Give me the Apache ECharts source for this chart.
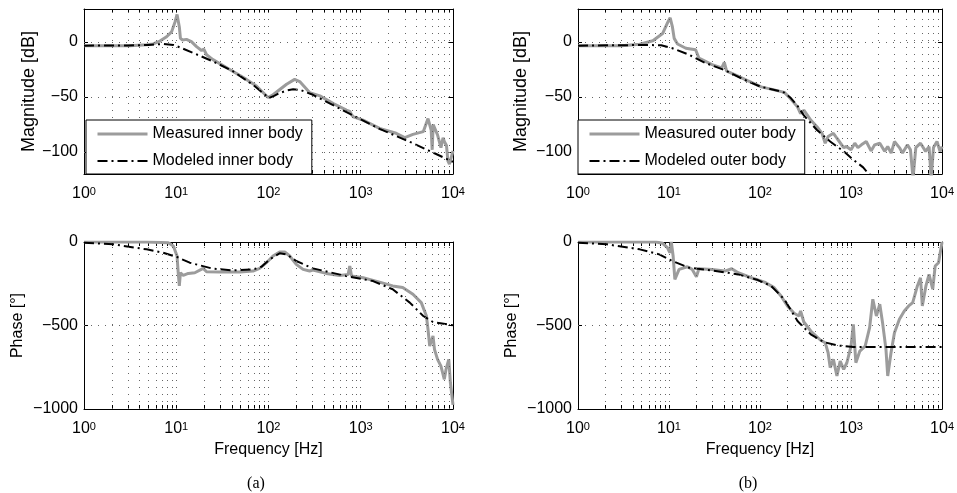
<!DOCTYPE html>
<html>
<head>
<meta charset="utf-8">
<script src="https://cdn.jsdelivr.net/npm/echarts@6/dist/echarts.min.js"></script>
<style>
  html, body { margin: 0; padding: 0; background: #fff; }
  #chart { width: 957px; height: 493px; }
</style>
</head>
<body>
<div id="chart"></div>
<script>
// frequency grid (log ticks) and tick labels
const freqLabels = [1, 10, 100, 1000, 10000]
const freqTicks = [1, 2, 3, 4, 5, 6, 7, 8, 9, 10, 20, 30, 40, 50, 60, 70, 80, 90, 100,
  200, 300, 400, 500, 600, 700, 800, 900, 1000, 2000, 3000, 4000, 5000, 6000, 7000, 8000, 9000, 10000]
const magTicks = [-100, -50, 0]
const phaseTicks = [-1000, -500, 0]

// (a) inner body, magnitude [Hz, dB]
const innerMagMeasured = [[1, -3.3], [2, -3.3], [3.15, -3.3], [4.77, -2.5], [5.63, -1.8], [6.65, 0.9], [7.86, 4.8],
  [8.9, 9.2], [9.7, 18.2], [10.2, 25], [10.8, 13.7], [11.1, 3.3], [11.7, 1.8], [12.9, 2.4], [14.6, 0.3], [15.3, 1.2],
  [16.6, -4.2], [18.8, -7.7], [19.9, -6.5], [21.3, -11.6], [25, -16], [38, -25], [57.6, -34], [74, -40], [99, -50.5],
  [112, -48], [157, -38.4], [192, -34], [218, -36], [279, -46], [361, -49], [505, -56], [700, -62], [760, -63],
  [795, -66], [830, -68], [1060, -71], [1600, -78.6], [2420, -83], [3000, -87], [3680, -84], [4760, -81.5],
  [5360, -69.6], [5800, -80], [5950, -98], [6100, -75], [6800, -84.5], [7400, -96], [7800, -87], [8050, -90.5],
  [8500, -94], [8800, -108], [9150, -111], [10000, -99]]
const innerMagModeled = [[1, -3.3], [3, -3.2], [5, -2.7], [7.2, -1.8], [9.3, -2.7], [10.9, -4.8], [15.3, -10],
  [25, -17.6], [41, -26.5], [68, -39], [95, -49], [101, -51], [115, -49], [132, -46.4], [160, -44], [185, -43],
  [220, -43.5], [303, -48], [700, -63.7], [1600, -79], [3680, -92], [10000, -109]]

// (b) outer body, magnitude [Hz, dB]
const outerMagMeasured = [[1, -3.3], [3, -3.3], [4.77, -2], [6.65, 1.2], [8.5, 7.7], [9.7, 18], [10.3, 22],
  [10.9, 13.7], [11.4, 3.3], [11.9, 5], [12.4, -1.8], [15.3, -5.7], [19.6, -7], [21.3, -14.6], [29.7, -20.5],
  [38, -23.5], [40.5, -18.5], [43, -26.5], [52, -29.5], [74, -35.4], [103, -40.8], [143, -43.5], [185, -45.8],
  [218, -51.8], [258, -59], [279, -65], [303, -62], [361, -71], [422, -77], [480, -83], [520, -92], [560, -86],
  [640, -83], [700, -87.5], [830, -96], [890, -95], [1000, -98], [1100, -92], [1190, -96], [1300, -93.5],
  [1470, -90.5], [1660, -99], [1820, -93.5], [2070, -92], [2340, -99.4], [2530, -95], [2760, -101], [3000, -90.5],
  [3400, -96], [3680, -101], [4170, -93.5], [4500, -98], [4800, -124], [5150, -96], [5800, -92], [6600, -99.4],
  [7200, -95], [7600, -124], [8050, -96], [8800, -90.5], [9500, -99.4], [10000, -95]]
const outerMagModeled = [[1, -3.3], [5.6, -2.7], [8.2, -3], [10.9, -5.7], [16.6, -11.6], [25, -19], [41, -25.6],
  [68, -34.5], [103, -40.8], [157, -44.3], [185, -46], [218, -51], [258, -58], [303, -66.7], [422, -80],
  [590, -90.5], [830, -99.4], [1060, -107], [1360, -114], [1530, -119], [2000, -126]]

// (a) inner body, phase [Hz, deg]
const innerPhaseMeasured = [[1, 0], [4.77, 0], [8.2, -4], [9.3, -24], [10.2, -84], [10.5, -184], [10.8, -263],
  [11.1, -184], [11.9, -200], [13.5, -188], [15.9, -184], [19.6, -158], [21.3, -178], [29.7, -180], [48.9, -180],
  [68, -174], [80, -158], [95, -124], [112, -84], [132, -60], [150, -60], [170, -84], [200, -134], [237, -164],
  [279, -174], [303, -168], [422, -188], [590, -200], [730, -194], [760, -144], [795, -204], [1060, -214],
  [1600, -240], [2220, -263], [2850, -273], [3680, -313], [4530, -363], [5150, -443], [5360, -523], [5590, -623],
  [5800, -623], [6070, -563], [6300, -643], [6800, -703], [7400, -743], [8050, -822], [8400, -763], [9000, -703],
  [9370, -843], [10000, -975]]
const innerPhaseModeled = [[1, -4], [2.08, -14], [4.77, -44], [7.2, -64], [10.2, -90], [14, -124], [25, -160],
  [41, -170], [68, -164], [84, -148], [103, -104], [132, -68], [157, -74], [200, -114], [303, -158], [700, -204],
  [1360, -234], [2220, -283], [3400, -363], [4760, -443], [6070, -479], [10000, -499]]

// (b) outer body, phase [Hz, deg]
const outerPhaseMeasured = [[1, 0], [7.2, 0], [8.5, -8], [9.6, -34], [10.2, -64], [10.6, 0], [11.1, -84],
  [11.6, -224], [12.9, -164], [15.9, -148], [18, -164], [20, -208], [21.3, -160], [29.7, -164], [41, -174],
  [48.9, -160], [57.6, -184], [80, -214], [112, -240], [143, -273], [170, -323], [200, -383], [237, -427],
  [268, -443], [279, -413], [303, -479], [361, -533], [460, -587], [520, -603], [560, -663], [590, -752],
  [640, -703], [700, -802], [760, -713], [830, -763], [900, -723], [1000, -623], [1060, -493], [1130, -723],
  [1250, -653], [1430, -623], [1600, -513], [1735, -343], [1900, -443], [2070, -373], [2220, -483], [2420, -643],
  [2530, -802], [2750, -663], [3000, -543], [3400, -463], [3850, -413], [4300, -383], [4760, -363], [5360, -263],
  [5800, -214], [6070, -383], [6650, -263], [7200, -194], [7900, -283], [8400, -144], [9150, -124], [10000, 0]]
const outerPhaseModeled = [[1, -4], [2.08, -14], [4.77, -44], [7.8, -74], [10.9, -114], [16.6, -154],
  [29.7, -170], [57.6, -194], [95, -228], [132, -263], [185, -343], [258, -473], [361, -553], [500, -599],
  [700, -619], [1060, -629], [10000, -629]]

const FONT = 'Liberation Sans, Arial, Helvetica, sans-serif'
const GRAY = '#9c9c9c'
const DASHDOT = [10, 4, 2, 4]

const panels = [
  { left: 84, top: 9, width: 369, height: 165, min: -120, max: 30, ticks: magTicks, yName: 'Magnitude [dB]', yGap: 41, ySize: 18, xName: '' },
  { left: 578, top: 9, width: 370, height: 165, min: -120, max: 30, ticks: magTicks, yName: 'Magnitude [dB]', yGap: 48, ySize: 18, xName: '' },
  { left: 84, top: 242, width: 369, height: 167, min: -1000, max: 0, ticks: phaseTicks, yName: 'Phase [°]', yGap: 58, ySize: 16, xName: 'Frequency [Hz]' },
  { left: 578, top: 242, width: 370, height: 167, min: -1000, max: 0, ticks: phaseTicks, yName: 'Phase [°]', yGap: 58, ySize: 16, xName: 'Frequency [Hz]' }
]

const grid = panels.map(p => ({ left: p.left, top: p.top, width: p.width, height: p.height, containLabel: false }))

function xAxisFor(p, i, top) {
  return {
    type: 'log',
    logBase: 10,
    min: 1,
    max: 10000,
    gridIndex: i,
    position: top ? 'top' : 'bottom',
    axisLine: { show: true, onZero: false, lineStyle: { color: '#000', width: 1 } },
    axisTick: { show: true, inside: true, length: 4, customValues: freqTicks, lineStyle: { color: '#000' } },
    axisLabel: {
      show: !top,
      customValues: freqLabels,
      margin: 12,
      color: '#000',
      fontFamily: FONT,
      formatter: v => '{b|10}{s|' + Math.round(Math.log10(v)) + '}',
      rich: {
        b: { fontSize: 16, lineHeight: 16, padding: [6, 0, 0, 0], verticalAlign: 'bottom', color: '#000', fontFamily: FONT },
        s: { fontSize: 11, lineHeight: 11, verticalAlign: 'top', color: '#000', fontFamily: FONT }
      }
    },
    splitLine: { show: false },
    name: top ? '' : p.xName,
    nameLocation: 'middle',
    nameGap: 33,
    nameTextStyle: { color: '#000', fontSize: 16, fontFamily: FONT }
  }
}

function yAxisFor(p, i, right) {
  return {
    type: 'value',
    min: p.min,
    max: p.max,
    gridIndex: i,
    position: right ? 'right' : 'left',
    axisLine: { show: true, onZero: false, lineStyle: { color: '#000', width: 1 } },
    axisTick: { show: true, inside: true, length: 4, customValues: p.ticks, lineStyle: { color: '#000' } },
    axisLabel: {
      show: !right,
      customValues: p.ticks,
      margin: 6,
      color: '#000',
      fontSize: 16,
      fontFamily: FONT,
      formatter: v => String(v).replace('-', '\u2212')
    },
    splitLine: { show: false },
    name: right ? '' : p.yName,
    nameLocation: 'middle',
    nameGap: p.yGap,
    nameTextStyle: { color: '#000', fontSize: p.ySize, fontFamily: FONT }
  }
}

const xAxis = panels.map((p, i) => xAxisFor(p, i, false)).concat(panels.map((p, i) => xAxisFor(p, i, true)))
const yAxis = panels.map((p, i) => yAxisFor(p, i, false)).concat(panels.map((p, i) => yAxisFor(p, i, true)))

// dotted grid lines, drawn through the axes
function gridSeries(p, i) {
  const lines = freqTicks.filter(f => f > 1 && f < 10000).map(f => ({ xAxis: f }))
    .concat(p.ticks.filter(v => v > p.min && v < p.max).map(v => ({ yAxis: v })))
  return {
    type: 'line',
    xAxisIndex: i,
    yAxisIndex: i,
    data: [],
    silent: true,
    z: 1,
    markLine: {
      silent: true,
      symbol: 'none',
      animation: false,
      label: { show: false },
      lineStyle: { color: '#666', type: [1, 6], width: 1 },
      emphasis: { disabled: true },
      data: lines
    }
  }
}

function measured(name, data, i) {
  return {
    name, type: 'line', xAxisIndex: i, yAxisIndex: i, data,
    symbol: 'none', clip: true, z: 3, animation: false,
    lineStyle: { color: GRAY, width: 3 }, itemStyle: { color: GRAY }
  }
}
function modeled(name, data, i) {
  return {
    name, type: 'line', xAxisIndex: i, yAxisIndex: i, data,
    symbol: 'none', clip: true, z: 4, animation: false,
    lineStyle: { color: '#000', width: 2, type: DASHDOT }, itemStyle: { color: '#000' }
  }
}

const series = panels.map((p, i) => gridSeries(p, i)).concat([
  measured('Measured inner body', innerMagMeasured, 0),
  modeled('Modeled inner body', innerMagModeled, 0),
  measured('Measured outer body', outerMagMeasured, 1),
  modeled('Modeled outer body', outerMagModeled, 1),
  measured('Measured inner phase', innerPhaseMeasured, 2),
  modeled('Modeled inner phase', innerPhaseModeled, 2),
  measured('Measured outer phase', outerPhaseMeasured, 3),
  modeled('Modeled outer phase', outerPhaseModeled, 3)
])

function legendFor(names, left, top) {
  return {
    data: names,
    orient: 'vertical',
    left, top,
    itemWidth: 50,
    itemHeight: 14,
    itemGap: 9,
    padding: [5, 9, 4, 10],
    backgroundColor: '#fff',
    borderColor: '#000',
    borderWidth: 1,
    borderRadius: 0,
    selectedMode: false,
    itemStyle: { color: 'rgba(0,0,0,0)', borderWidth: 0, opacity: 0 },
    lineStyle: { width: 'inherit', type: 'inherit' },
    textStyle: { color: '#000', fontSize: 16, lineHeight: 18, fontFamily: FONT },
    z: 10
  }
}

const chart = echarts.init(document.getElementById('chart'), null, { renderer: 'canvas' })
chart.setOption({
  backgroundColor: '#fff',
  animation: false,
  grid,
  xAxis,
  yAxis,
  legend: [
    legendFor(['Measured inner body', 'Modeled inner body'], 86, 120),
    legendFor(['Measured outer body', 'Modeled outer body'], 578, 120)
  ],
  graphic: [
    { type: 'text', x: 256, y: 476, style: { text: '(a)', fill: '#000', font: '16px Liberation Serif, Times New Roman, serif', textAlign: 'center' } },
    { type: 'text', x: 748, y: 476, style: { text: '(b)', fill: '#000', font: '16px Liberation Serif, Times New Roman, serif', textAlign: 'center' } }
  ],
  series
})
</script>
</body>
</html>
